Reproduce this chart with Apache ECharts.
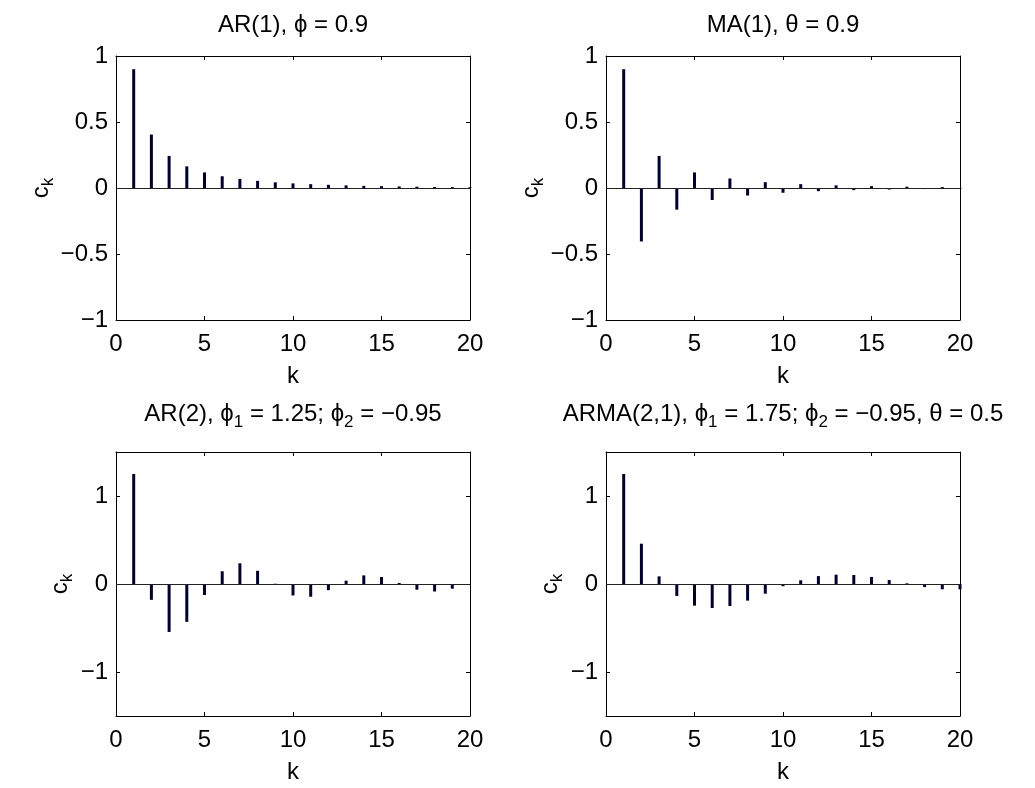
<!DOCTYPE html>
<html>
<head>
<meta charset="utf-8">
<script src="https://cdn.jsdelivr.net/npm/echarts@6/dist/echarts.min.js"></script>
<style>
html,body{margin:0;padding:0;background:#fff;}
#chart{width:1035px;height:788px;}
</style>
</head>
<body>
<div id="chart"></div>
<script>
// lags k
const lags = [1,2,3,4,5,6,7,8,9,10,11,12,13,14,15,16,17,18,19,20];
// autocovariance values
const ar1Values = [0.90,0.405,0.243,0.164,0.118,0.089,0.069,0.054,0.043,0.035,0.029,0.024,0.020,0.016,0.014,0.012,0.010,0.008,0.007,0.006];
const ma1Values = [0.90,-0.405,0.243,-0.164,0.118,-0.091,0.072,-0.057,0.044,-0.036,0.029,-0.024,0.020,-0.016,0.014,-0.012,0.010,-0.008,0.007,-0.006];
const ar2Values = [1.25,-0.18,-0.545,-0.43,-0.125,0.145,0.235,0.15,0.003,-0.13,-0.145,-0.07,0.038,0.098,0.08,0.012,-0.065,-0.085,-0.053,0.0];
const armaValues = [1.25,0.458,0.087,-0.136,-0.246,-0.273,-0.25,-0.189,-0.11,-0.025,0.042,0.09,0.106,0.102,0.08,0.045,0.008,-0.035,-0.06,-0.06];
// tick values
const xTicks = [0,5,10,15,20];
const yTicksTop = [-1,-0.5,0,0.5,1];
const yTicksBottom = [-1,0,1];
// titles
const titles = [
  'AR(1), ϕ = 0.9',
  'MA(1), θ = 0.9',
  'AR(2), ϕ{s|1} = 1.25; ϕ{s|2} = −0.95',
  'ARMA(2,1), ϕ{s|1} = 1.75; ϕ{s|2} = −0.95, θ = 0.5'
];

const FONT = 'Liberation Sans, Arial, Helvetica, sans-serif';
const FS = 24;
const panels = [
  {vals: ar1Values, left:116, top:56, ymin:-1, ymax:1, yt:yTicksTop, title:titles[0], ty:25},
  {vals: ma1Values, left:606, top:56, ymin:-1, ymax:1, yt:yTicksTop, title:titles[1], ty:25},
  {vals: ar2Values, left:116, top:452, ymin:-1.5, ymax:1.5, yt:yTicksBottom, title:titles[2], ty:414},
  {vals: armaValues, left:606, top:452, ymin:-1.5, ymax:1.5, yt:yTicksBottom, title:titles[3], ty:414}
];
const W = 354, H = 264;
const fmt = v => String(v).replace('-', '−');
const lineStyle = {color:'#000', width:1};

const grid = [], xAxis = [], yAxis = [], series = [], graphic = [];
panels.forEach((p, i) => {
  grid.push({left:p.left, top:p.top, width:W, height:H, show:false});
  xAxis.push({
    type:'value', gridIndex:i, min:0, max:20, position:'bottom',
    axisLine:{show:true, onZero:false, lineStyle},
    axisTick:{show:true, inside:true, length:4, customValues:xTicks, lineStyle},
    axisLabel:{show:true, customValues:xTicks, margin:12, color:'#000', fontSize:FS, fontFamily:FONT, formatter:fmt},
    splitLine:{show:false},
    name:'k', nameLocation:'middle', nameGap:44,
    nameTextStyle:{color:'#000', fontSize:FS, fontFamily:FONT}
  });
  xAxis.push({
    type:'value', gridIndex:i, min:0, max:20, position:'top',
    axisLine:{show:true, onZero:false, lineStyle},
    axisTick:{show:true, inside:true, length:4, customValues:xTicks, lineStyle},
    axisLabel:{show:false}, splitLine:{show:false}
  });
  yAxis.push({
    type:'value', gridIndex:i, min:p.ymin, max:p.ymax, position:'left',
    axisLine:{show:true, onZero:false, lineStyle},
    axisTick:{show:true, inside:true, length:4, customValues:p.yt, lineStyle},
    axisLabel:{show:true, customValues:p.yt, margin:8, color:'#000', fontSize:FS, fontFamily:FONT, formatter:fmt},
    splitLine:{show:false},
    name:'c{s|k}', nameLocation:'middle', nameGap:40, nameRotate:90,
    nameTextStyle:{color:'#000', fontSize:FS, fontFamily:FONT,
      rich:{s:{fontSize:17, fontFamily:FONT, color:'#000', padding:[14,0,0,0]}}}
  });
  yAxis.push({
    type:'value', gridIndex:i, min:p.ymin, max:p.ymax, position:'right',
    axisLine:{show:true, onZero:false, lineStyle},
    axisTick:{show:true, inside:true, length:4, customValues:p.yt, lineStyle},
    axisLabel:{show:false}, splitLine:{show:false}
  });
  series.push({
    type:'bar', xAxisIndex:2*i, yAxisIndex:2*i,
    data: lags.map((k, j) => [k, p.vals[j]]),
    barWidth:3,
    itemStyle:{color:'#000033'},
    silent:true,
    markLine:{
      silent:true, symbol:'none', label:{show:false},
      lineStyle:{color:'#222', width:1, type:'solid'},
      data:[{yAxis:0}]
    }
  });
  graphic.push({
    type:'text', x:p.left + W/2, y:p.ty,
    style:{
      text:p.title, fontSize:FS, fontFamily:FONT, fill:'#000',
      align:'center', verticalAlign:'middle',
      rich:{s:{fontSize:17, fontFamily:FONT, fill:'#000', padding:[16,0,0,0]}}
    }
  });
});

const chart = echarts.init(document.getElementById('chart'), null, {renderer:'canvas'});
chart.setOption({
  animation:false,
  backgroundColor:'#fff',
  grid, xAxis, yAxis, series, graphic
});
</script>
</body>
</html>
